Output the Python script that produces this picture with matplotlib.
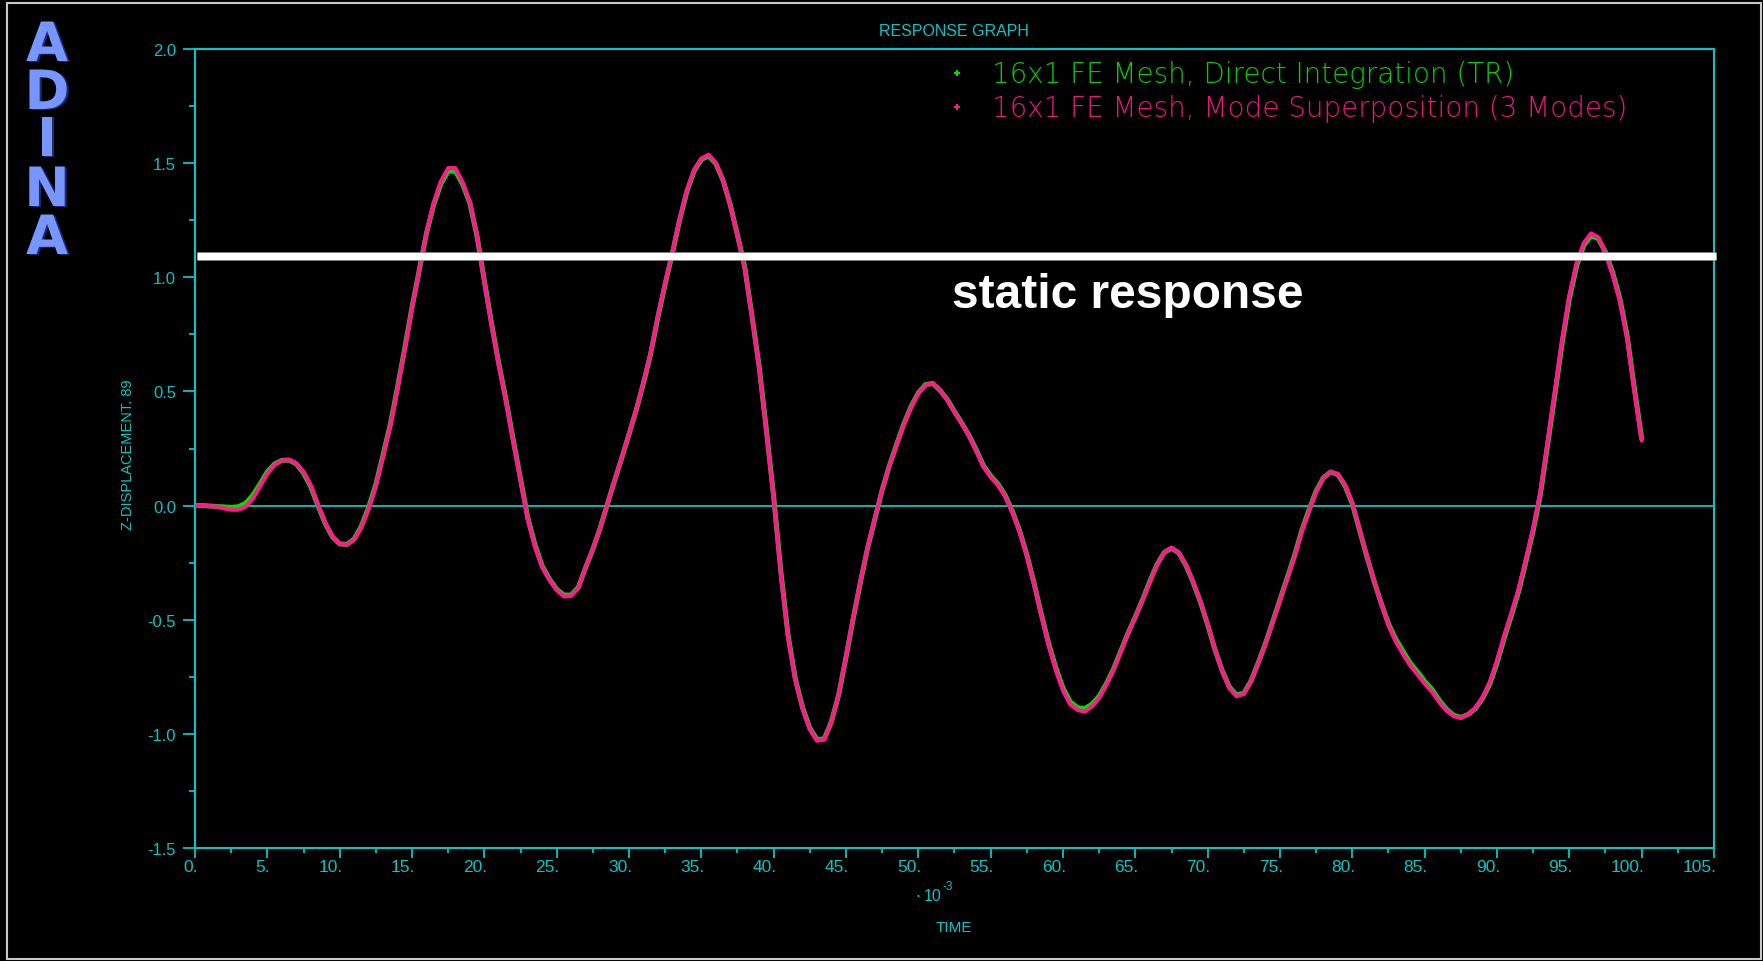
import numpy as np
import matplotlib
matplotlib.use("Agg")
import matplotlib.pyplot as plt
from matplotlib.ticker import MultipleLocator, FuncFormatter
import matplotlib.patheffects as pe
import matplotlib.transforms as mtransforms
from matplotlib.lines import Line2D
from matplotlib.patches import Rectangle

# ---------------- data ----------------
time = np.arange(0.0, 100.0 + 0.25, 0.5)   # sample times, x 10^-3

disp_mode_sup = [  # 16x1 FE Mesh, Mode Superposition (3 Modes)
    0.000, 0.000, -0.002, -0.005, -0.012, -0.018, -0.018, -0.005, 0.030, 0.085,
    0.140, 0.178, 0.197, 0.201, 0.185, 0.148, 0.090, 0.005, -0.075, -0.135,
    -0.168,
    -0.172, -0.150, -0.095, -0.015, 0.085, 0.215, 0.350, 0.513, 0.685, 0.866,
    1.030, 1.195, 1.325, 1.420, 1.478, 1.478, 1.415, 1.330, 1.180, 0.980,
    0.790, 0.615, 0.455, 0.280, 0.110, -0.060, -0.180, -0.270, -0.325, -0.370,
    -0.398, -0.395, -0.360, -0.270, -0.190, -0.100, 0.005, 0.110, 0.210, 0.315,
    0.420, 0.540, 0.670, 0.830, 0.975, 1.110, 1.255, 1.380, 1.470, 1.520,
    1.537, 1.500, 1.425, 1.315, 1.180, 1.040, 0.825, 0.600, 0.320, 0.030,
    -0.300, -0.580, -0.765, -0.890, -0.980, -1.030, -1.025, -0.945, -0.825, -0.660,
    -0.490, -0.330, -0.180, -0.055, 0.070, 0.175, 0.265, 0.355, 0.430, 0.490,
    0.528, 0.535, 0.505, 0.462, 0.410, 0.360, 0.305, 0.240, 0.170, 0.125,
    0.090, 0.040, -0.030, -0.115, -0.220, -0.345, -0.480, -0.610, -0.720, -0.810,
    -0.870, -0.895, -0.903, -0.880, -0.843, -0.785, -0.720, -0.640, -0.560, -0.490,
    -0.415, -0.335, -0.260, -0.205, -0.185, -0.205, -0.260, -0.335, -0.420, -0.520,
    -0.630, -0.725, -0.800, -0.835, -0.825, -0.770, -0.690, -0.605, -0.510, -0.415,
    -0.320, -0.225, -0.115, -0.025, 0.060, 0.120, 0.148, 0.138, 0.090, 0.012,
    -0.105, -0.220, -0.330, -0.430, -0.525, -0.595, -0.650, -0.700, -0.740, -0.780,
    -0.815, -0.860, -0.898, -0.922, -0.930, -0.915, -0.888, -0.840, -0.775, -0.680,
    -0.570, -0.470, -0.365, -0.235, -0.100, 0.060, 0.280, 0.500, 0.725, 0.920,
    1.060, 1.150, 1.192, 1.175, 1.105, 1.010, 0.895, 0.730, 0.500, 0.285,
]

disp_direct = [  # 16x1 FE Mesh, Direct Integration (TR)
    0.000, 0.000, -0.002, -0.004, -0.006, -0.008, -0.005, 0.010, 0.045, 0.095,
    0.148, 0.182, 0.198, 0.199, 0.183, 0.143, 0.083, 0.000, -0.078, -0.137,
    -0.168,
    -0.170, -0.147, -0.090, -0.008, 0.092, 0.222, 0.355, 0.518, 0.690, 0.868,
    1.030, 1.192, 1.318, 1.410, 1.465, 1.465, 1.408, 1.325, 1.178, 0.985,
    0.798, 0.622, 0.462, 0.288, 0.118, -0.052, -0.172, -0.265, -0.322, -0.366,
    -0.392, -0.392, -0.358, -0.272, -0.192, -0.100, 0.005, 0.108, 0.208, 0.312,
    0.418, 0.536, 0.665, 0.825, 0.970, 1.105, 1.250, 1.375, 1.465, 1.516,
    1.532, 1.498, 1.425, 1.318, 1.185, 1.045, 0.832, 0.608, 0.330, 0.040,
    -0.290, -0.570, -0.760, -0.885, -0.975, -1.025, -1.022, -0.945, -0.828, -0.665,
    -0.495, -0.335, -0.185, -0.058, 0.068, 0.175, 0.268, 0.358, 0.434, 0.494,
    0.530, 0.535, 0.505, 0.465, 0.412, 0.362, 0.308, 0.245, 0.175, 0.130,
    0.095, 0.045, -0.025, -0.110, -0.215, -0.340, -0.475, -0.602, -0.710, -0.800,
    -0.860, -0.885, -0.890, -0.870, -0.835, -0.780, -0.715, -0.637, -0.558, -0.488,
    -0.412, -0.332, -0.258, -0.205, -0.187, -0.207, -0.262, -0.337, -0.422, -0.522,
    -0.630, -0.722, -0.795, -0.830, -0.822, -0.768, -0.688, -0.603, -0.508, -0.412,
    -0.316, -0.220, -0.110, -0.020, 0.064, 0.122, 0.147, 0.136, 0.086, 0.008,
    -0.108, -0.222, -0.330, -0.428, -0.518, -0.585, -0.638, -0.690, -0.728, -0.770,
    -0.805, -0.852, -0.892, -0.918, -0.928, -0.915, -0.890, -0.845, -0.782, -0.690,
    -0.580, -0.480, -0.375, -0.245, -0.110, 0.048, 0.265, 0.485, 0.710, 0.905,
    1.048, 1.140, 1.182, 1.170, 1.110, 1.020, 0.905, 0.742, 0.512, 0.295,
]

static_level = 1.092
x_ticks_major = 5.0
y_ticks_major = 0.5

legend_labels = ["16x1 FE Mesh, Direct Integration (TR)",
                 "16x1 FE Mesh, Mode Superposition (3 Modes)"]

# ---------------- styling ----------------
W, H = 1763, 962
CYAN = "#00c8c8"
GREEN = "#00e000"
PINK = "#ff1a8c"
GREEN_TXT = "#00d000"
PINK_TXT = "#ee1480"
SANS = ["Liberation Sans", "DejaVu Sans"]

plt.rcParams["font.family"] = SANS

fig = plt.figure(figsize=(W / 100, H / 100), dpi=100, facecolor="black")
ax = fig.add_axes([195 / W, 1 - 849 / H, (1714 - 195) / W, (849 - 50) / H])
ax.set_facecolor("black")

def fx(px):
    return px / W

def fy(py):
    return 1 - py / H

# curves
ax.axhline(0.0, color=CYAN, lw=1.3, zorder=1)
ax.plot(time, disp_direct, color=GREEN, lw=3.6, zorder=2,
        solid_joinstyle="round", solid_capstyle="round")
ax.plot(time, disp_mode_sup, color=PINK, lw=3.0, zorder=3,
        solid_joinstyle="round", solid_capstyle="round")

# static response line
ax.plot([0.12, 105.14], [static_level, static_level], color="white", lw=5.2,
        solid_capstyle="butt", clip_on=False, zorder=6,
        path_effects=[pe.Stroke(linewidth=6.2, foreground="#8a8a8a"), pe.Normal()])

ax.set_xlim(0, 105)
ax.set_ylim(-1.5, 2.0)

for s in ax.spines.values():
    s.set_color(CYAN)
    s.set_linewidth(1.5)

ax.xaxis.set_major_locator(MultipleLocator(x_ticks_major))
ax.xaxis.set_minor_locator(MultipleLocator(x_ticks_major / 2))
ax.yaxis.set_major_locator(MultipleLocator(y_ticks_major))
ax.yaxis.set_minor_locator(MultipleLocator(y_ticks_major / 2))
ax.xaxis.set_major_formatter(FuncFormatter(lambda v, p: f"{int(round(v))}."))
ax.yaxis.set_major_formatter(FuncFormatter(lambda v, p: f"{v:.1f}"))

ax.tick_params(axis="x", which="major", direction="out", length=7.2, width=1.3,
               colors=CYAN, labelsize=12.5, pad=0.5)
ax.tick_params(axis="x", which="minor", direction="out", length=3.6, width=1.3,
               colors=CYAN)
ax.tick_params(axis="y", which="major", direction="out", length=8.6, width=1.3,
               colors=CYAN, labelsize=12, pad=5)
ax.tick_params(axis="y", which="minor", direction="out", length=4.3, width=1.3,
               colors=CYAN)

offset = mtransforms.ScaledTranslation(3 / 100, 0, fig.dpi_scale_trans)
for tk in ax.xaxis.get_major_ticks():
    tk.label1.set_horizontalalignment("right")
    tk.label1.set_transform(tk.label1.get_transform() + offset)

# titles / labels
fig.text(fx(954), fy(31), "RESPONSE GRAPH", ha="center", va="center",
         fontsize=11.5, color=CYAN)
fig.text(fx(128), fy(455), "Z-DISPLACEMENT. 89", rotation=90, ha="center",
         va="center", fontsize=10.5, color=CYAN)
fig.text(fx(954), fy(928), "TIME", ha="center", va="center", fontsize=11,
         color=CYAN)
fig.text(fx(917), fy(897), "\u2022", ha="left", va="center", fontsize=6,
         color=CYAN)
fig.text(fx(924), fy(897), "10", ha="left", va="center", fontsize=11.5,
         color=CYAN)
fig.text(fx(943), fy(887), "-3", ha="left", va="center", fontsize=8.5,
         color=CYAN)

# legend (drawn as in the reference)
for (py, col, tcol, lab) in [(75, GREEN, GREEN_TXT, legend_labels[0]),
                             (109, PINK, PINK_TXT, legend_labels[1])]:
    fig.add_artist(Line2D([fx(957)], [fy(py - 1)], marker="P", markersize=5,
                          color=col, markeredgewidth=0, linestyle="none",
                          transform=fig.transFigure))
    fig.text(fx(992), fy(py), lab, ha="left", va="center", fontsize=20,
             color=tcol, family=["DejaVu Sans"], fontweight="light")

# static response annotation
fig.text(fx(952), fy(308), "static response", ha="left", va="baseline",
         fontsize=34.5, fontweight="bold", color="white",
         family=["Liberation Sans", "DejaVu Sans"])

# ADINA logo
for letter, base in zip("ADINA", [62, 110, 157, 207, 255]):
    fig.text(fx(47), fy(base), letter, ha="center", va="baseline",
             fontsize=39, fontweight="bold", color="#7896ff",
             family=["DejaVu Sans"],
             path_effects=[pe.withSimplePatchShadow(offset=(1.5, -0.7),
                                                    shadow_rgbFace="#1c2a78",
                                                    alpha=1.0)])

# outer frame
fig.add_artist(Rectangle((fx(7), 1 - 960 / H), (1761 - 7) / W, (960 - 4) / H,
                         transform=fig.transFigure, fill=False,
                         edgecolor="#c8c8c8", lw=1.5))

fig.savefig("out.png", dpi=100, facecolor="black")
